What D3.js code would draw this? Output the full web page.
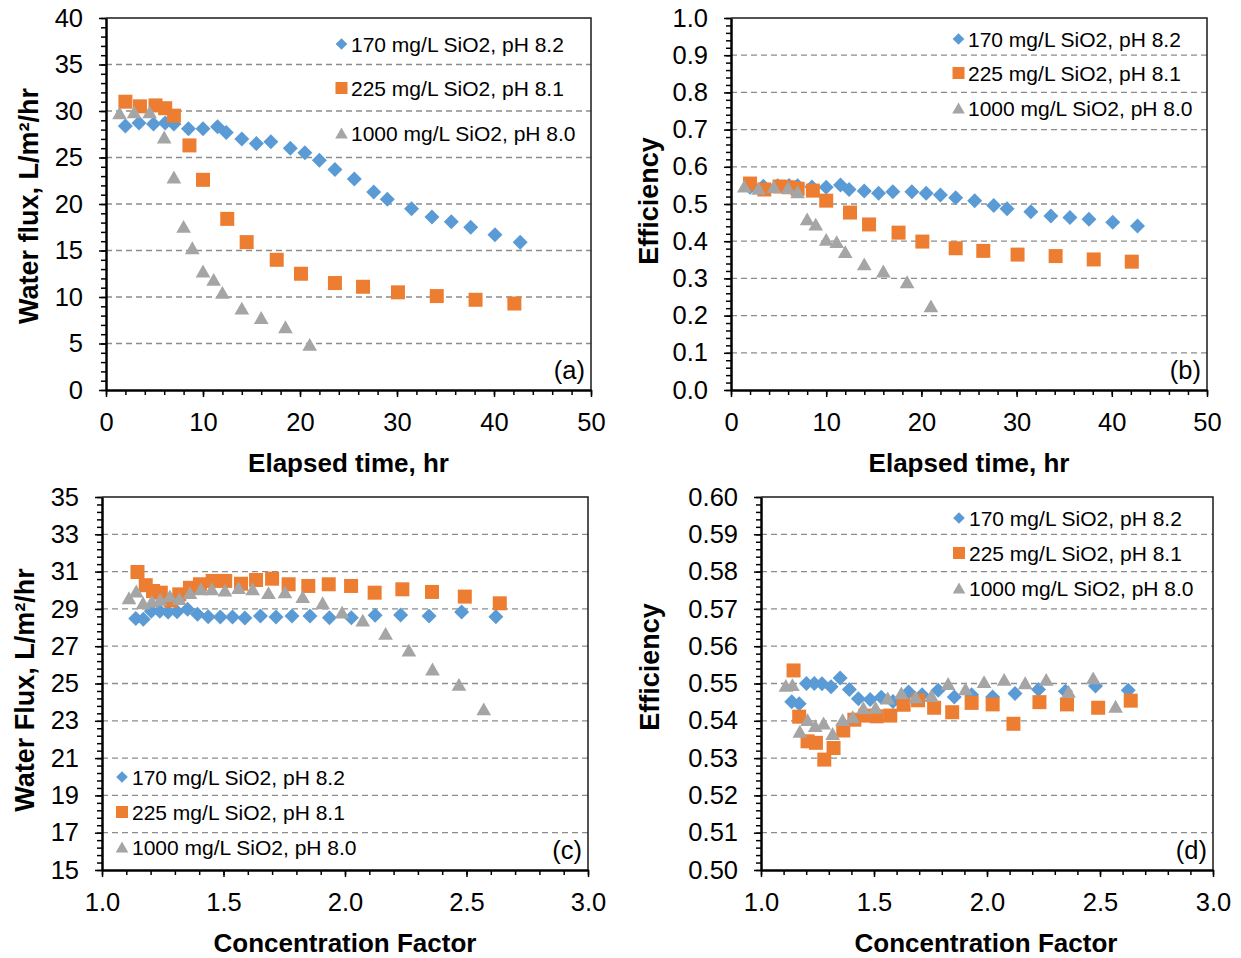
<!DOCTYPE html>
<html><head><meta charset="utf-8">
<script src="https://cdn.jsdelivr.net/npm/d3@7"></script>
<style>
body{margin:0;background:#fff}
text{font-family:"Liberation Sans",Arial,sans-serif;fill:#000}
</style>
</head><body>
<svg id="chart" width="1241" height="958"></svg>
<script>
// ---------- data ----------
const seriesNames = ["170 mg/L SiO2, pH 8.2", "225 mg/L SiO2, pH 8.1", "1000 mg/L SiO2, pH 8.0"];
const seriesColors = ["#5B9BD5", "#ED7D31", "#A5A5A5"];

// Panels (a)/(b): elapsed time (hr)
const timeBlue   = [2.0, 3.4, 4.9, 6.1, 7.0, 8.5, 10.0, 11.5, 12.4, 14.0, 15.5, 17.0, 19.0, 20.5, 22.0, 23.6, 25.6, 27.6, 29.0, 31.5, 33.6, 35.6, 37.6, 40.1, 42.7];
const timeOrange = [2.0, 3.5, 5.1, 6.1, 7.0, 8.6, 10.0, 12.5, 14.5, 17.6, 20.1, 23.6, 26.5, 30.1, 34.1, 38.1, 42.1];
const timeGray   = [1.4, 2.9, 4.5, 6.0, 7.0, 8.0, 8.9, 10.0, 11.1, 12.0, 14.0, 16.0, 18.5, 21.0];

// (a) water flux, L/m2/hr
const fluxBlueA   = [28.4, 28.7, 28.6, 28.7, 28.6, 28.1, 28.1, 28.3, 27.7, 27.0, 26.5, 26.7, 26.0, 25.5, 24.7, 23.7, 22.7, 21.3, 20.5, 19.5, 18.6, 18.1, 17.5, 16.7, 15.9];
const fluxOrangeA = [31.0, 30.5, 30.6, 30.3, 29.5, 26.3, 22.6, 18.4, 15.9, 14.0, 12.5, 11.5, 11.1, 10.5, 10.1, 9.7, 9.3];
const fluxGrayA   = [29.8, 29.9, 29.9, 27.2, 22.9, 17.6, 15.3, 12.8, 11.9, 10.5, 8.8, 7.8, 6.8, 4.9];

// (b) efficiency vs time
const effBlueB   = [0.545, 0.548, 0.549, 0.550, 0.549, 0.546, 0.545, 0.551, 0.539, 0.535, 0.529, 0.533, 0.533, 0.529, 0.524, 0.517, 0.509, 0.496, 0.487, 0.479, 0.468, 0.464, 0.459, 0.451, 0.441];
const effOrangeB = [0.555, 0.539, 0.547, 0.545, 0.541, 0.536, 0.509, 0.477, 0.445, 0.423, 0.399, 0.381, 0.374, 0.364, 0.360, 0.351, 0.345];
const effGrayB   = [0.548, 0.542, 0.547, 0.544, 0.533, 0.460, 0.446, 0.405, 0.399, 0.372, 0.339, 0.320, 0.291, 0.226];

// Panel (c): concentration factor vs water flux
const cfBlueC   = [1.139, 1.170, 1.203, 1.238, 1.272, 1.309, 1.352, 1.393, 1.437, 1.487, 1.537, 1.588, 1.652, 1.716, 1.782, 1.856, 1.936, 2.026, 2.124, 2.229, 2.346, 2.480, 2.621];
const fluxBlueC = [28.48, 28.44, 28.87, 28.87, 28.83, 28.85, 28.98, 28.71, 28.58, 28.56, 28.56, 28.51, 28.62, 28.56, 28.62, 28.62, 28.53, 28.53, 28.66, 28.67, 28.62, 28.83, 28.58];
const cfOrangeC   = [1.146, 1.180, 1.210, 1.242, 1.283, 1.318, 1.362, 1.403, 1.455, 1.507, 1.572, 1.634, 1.700, 1.768, 1.849, 1.933, 2.025, 2.122, 2.236, 2.358, 2.493, 2.637];
const fluxOrangeC = [30.98, 30.27, 29.96, 29.87, 29.45, 29.78, 30.13, 30.32, 30.50, 30.50, 30.35, 30.55, 30.62, 30.32, 30.23, 30.32, 30.23, 29.87, 30.05, 29.91, 29.66, 29.30];
const cfGrayC   = [1.111, 1.141, 1.169, 1.205, 1.239, 1.279, 1.318, 1.362, 1.407, 1.452, 1.506, 1.562, 1.620, 1.685, 1.753, 1.826, 1.908, 1.988, 2.073, 2.167, 2.263, 2.360, 2.469, 2.571];
const fluxGrayC = [29.60, 29.96, 29.33, 29.42, 29.52, 29.70, 29.55, 29.87, 30.08, 30.08, 30.01, 30.14, 30.08, 29.87, 29.91, 29.66, 29.33, 28.83, 28.40, 27.69, 26.79, 25.78, 24.95, 23.64];

// Panel (d): concentration factor vs efficiency
const cfBlueD  = [1.136, 1.169, 1.201, 1.236, 1.270, 1.310, 1.350, 1.391, 1.431, 1.483, 1.532, 1.584, 1.653, 1.713, 1.784, 1.855, 1.932, 2.025, 2.124, 2.228, 2.347, 2.480, 2.625];
const effBlueD = [0.5451, 0.5446, 0.5500, 0.5500, 0.5499, 0.5491, 0.5515, 0.5484, 0.5459, 0.5457, 0.5463, 0.5452, 0.5477, 0.5470, 0.5482, 0.5464, 0.5470, 0.5464, 0.5473, 0.5484, 0.5479, 0.5493, 0.5482];
const cfOrangeD  = [1.144, 1.169, 1.206, 1.243, 1.280, 1.321, 1.364, 1.413, 1.462, 1.512, 1.572, 1.631, 1.695, 1.766, 1.846, 1.932, 2.025, 2.117, 2.232, 2.354, 2.492, 2.636];
const effOrangeD = [0.5535, 0.5411, 0.5345, 0.5341, 0.5296, 0.5327, 0.5374, 0.5403, 0.5414, 0.5412, 0.5414, 0.5443, 0.5455, 0.5435, 0.5423, 0.5448, 0.5444, 0.5392, 0.5450, 0.5444, 0.5435, 0.5454];
const cfGrayD  = [1.110, 1.139, 1.172, 1.206, 1.240, 1.277, 1.317, 1.361, 1.406, 1.453, 1.507, 1.561, 1.621, 1.684, 1.754, 1.828, 1.905, 1.987, 2.076, 2.169, 2.262, 2.361, 2.470, 2.569];
const effGrayD = [0.5495, 0.5497, 0.5372, 0.5403, 0.5387, 0.5394, 0.5366, 0.5403, 0.5411, 0.5435, 0.5436, 0.5461, 0.5475, 0.5464, 0.5468, 0.5500, 0.5486, 0.5505, 0.5511, 0.5502, 0.5511, 0.5479, 0.5515, 0.5439];

// Axis tick values
const timeTicks = [0, 10, 20, 30, 40, 50];
const fluxTicksA = [0, 5, 10, 15, 20, 25, 30, 35, 40];
const effTicksB = [0.0, 0.1, 0.2, 0.3, 0.4, 0.5, 0.6, 0.7, 0.8, 0.9, 1.0];
const cfTicks = [1.0, 1.5, 2.0, 2.5, 3.0];
const fluxTicksC = [15, 17, 19, 21, 23, 25, 27, 29, 31, 33, 35];
const effTicksD = [0.50, 0.51, 0.52, 0.53, 0.54, 0.55, 0.56, 0.57, 0.58, 0.59, 0.60];

// ---------- drawing ----------
const svg = d3.select("#chart");
const minorRange = (lo, hi, step) => d3.range(Math.round((hi - lo) / step) + 1).map(i => lo + i * step);

function markerPath(kind, s) {
  if (kind === 0) { const r = s; return `M0,${-r}L${r},0L0,${r}L${-r},0Z`; }
  if (kind === 1) { const h = s; return `M${-h},${-h}H${h}V${h}H${-h}Z`; }
  const w = s * 1.05, hh = s * 0.92;
  return `M0,${-hh}L${w},${hh}L${-w},${hh}Z`;
}

function panel(cfg) {
  const g = svg.append("g");
  const x = d3.scaleLinear().domain(cfg.xDomain).range([cfg.left, cfg.right]);
  const y = d3.scaleLinear().domain(cfg.yDomain).range([cfg.bottom, cfg.top]);

  // gridlines
  g.append("g").selectAll("line")
    .data(cfg.yTicks.slice(1, -1))
    .join("line")
    .attr("x1", cfg.left).attr("x2", cfg.right)
    .attr("y1", d => y(d)).attr("y2", d => y(d))
    .attr("stroke", "#8c8c8c").attr("stroke-width", 1.3)
    .attr("stroke-dasharray", "6,4");

  // frame top/right
  g.append("path")
    .attr("d", `M${cfg.left},${cfg.top}H${cfg.right}V${cfg.bottom}`)
    .attr("fill", "none").attr("stroke", "#1a1a1a").attr("stroke-width", 1.5);

  // minor ticks
  const yMinor = g.append("g").attr("transform", `translate(${cfg.left},0)`)
    .call(d3.axisLeft(y).tickValues(cfg.yMinor).tickSize(5).tickFormat(""));
  const xMinor = g.append("g").attr("transform", `translate(0,${cfg.bottom})`)
    .call(d3.axisBottom(x).tickValues(cfg.xMinor).tickSize(5).tickFormat(""));
  [yMinor, xMinor].forEach(a => { a.select(".domain").remove(); a.selectAll("line").attr("stroke", "#000").attr("stroke-width", 1.5); });

  // major axes
  const yAx = g.append("g").attr("transform", `translate(${cfg.left},0)`)
    .call(d3.axisLeft(y).tickValues(cfg.yTicks).tickSize(7).tickSizeOuter(0).tickPadding(16).tickFormat(d3.format(cfg.yFmt)));
  const xAx = g.append("g").attr("transform", `translate(0,${cfg.bottom})`)
    .call(d3.axisBottom(x).tickValues(cfg.xTicks).tickSize(7).tickSizeOuter(0).tickPadding(16).tickFormat(d3.format(cfg.xFmt)));
  [yAx, xAx].forEach(a => {
    a.select(".domain").attr("stroke", "#000").attr("stroke-width", 2.5);
    a.selectAll("line").attr("stroke", "#000").attr("stroke-width", 1.5);
    a.selectAll("text").attr("font-size", 25.5).attr("font-family", "Liberation Sans, Arial, sans-serif").attr("fill", "#000");
  });

  // series
  cfg.series.forEach((s, k) => {
    const pts = s.x.map((v, i) => [v, s.y[i]]);
    g.append("g").selectAll("path")
      .data(pts).join("path")
      .attr("transform", d => `translate(${x(d[0])},${y(d[1])})`)
      .attr("d", markerPath(k, k === 0 ? 7.5 : 7))
      .attr("fill", seriesColors[k]);
  });

  // legend
  cfg.legend.ys.forEach((ly, k) => {
    g.append("path")
      .attr("transform", `translate(${cfg.legend.mx},${ly})`)
      .attr("d", markerPath(k, k === 0 ? 5.8 : 6))
      .attr("fill", seriesColors[k]);
    g.append("text")
      .attr("x", cfg.legend.tx).attr("y", ly + 7.5)
      .attr("font-size", 21)
      .text(seriesNames[k]);
  });

  // panel label
  g.append("text").attr("x", cfg.right - 6).attr("y", cfg.bottom - 11)
    .attr("text-anchor", "end").attr("font-size", 25.5).text(cfg.label);

  // axis titles
  g.append("text").attr("x", cfg.xTitle[1]).attr("y", cfg.xTitle[2])
    .attr("text-anchor", "middle").attr("font-size", 26).attr("font-weight", "bold")
    .text(cfg.xTitle[0]);
  g.append("text")
    .attr("transform", `translate(${cfg.yTitle[1]},${cfg.yTitle[2]}) rotate(-90)`)
    .attr("text-anchor", "middle").attr("dy", "0.36em")
    .attr("font-size", 27).attr("font-weight", "bold")
    .text(cfg.yTitle[0]);
}

panel({
  left: 106, right: 591, top: 18, bottom: 390,
  xDomain: [0, 50], yDomain: [0, 40],
  xTicks: timeTicks, yTicks: fluxTicksA,
  xMinor: minorRange(0, 50, 2), yMinor: minorRange(0, 40, 1),
  xFmt: "d", yFmt: "d",
  series: [{x: timeBlue, y: fluxBlueA}, {x: timeOrange, y: fluxOrangeA}, {x: timeGray, y: fluxGrayA}],
  legend: {mx: 341.5, tx: 351, ys: [44, 88, 133]},
  label: "(a)",
  xTitle: ["Elapsed time, hr", 348.5, 472],
  yTitle: ["Water flux, L/m²/hr", 28, 206]
});

panel({
  left: 731, right: 1207, top: 18, bottom: 390,
  xDomain: [0, 50], yDomain: [0, 1],
  xTicks: timeTicks, yTicks: effTicksB,
  xMinor: minorRange(0, 50, 2), yMinor: minorRange(0, 1, 0.02),
  xFmt: "d", yFmt: ".1f",
  series: [{x: timeBlue, y: effBlueB}, {x: timeOrange, y: effOrangeB}, {x: timeGray, y: effGrayB}],
  legend: {mx: 958.5, tx: 968, ys: [39, 73, 108]},
  label: "(b)",
  xTitle: ["Elapsed time, hr", 969, 472],
  yTitle: ["Efficiency", 648, 201]
});

panel({
  left: 102, right: 588, top: 497, bottom: 870,
  xDomain: [1, 3], yDomain: [15, 35],
  xTicks: cfTicks, yTicks: fluxTicksC,
  xMinor: minorRange(1, 3, 0.1), yMinor: minorRange(15, 35, 0.4),
  xFmt: ".1f", yFmt: "d",
  series: [{x: cfBlueC, y: fluxBlueC}, {x: cfOrangeC, y: fluxOrangeC}, {x: cfGrayC, y: fluxGrayC}],
  legend: {mx: 122, tx: 132, ys: [777, 812, 847]},
  label: "(c)",
  xTitle: ["Concentration Factor", 345, 952],
  yTitle: ["Water Flux, L/m²/hr", 24, 690]
});

panel({
  left: 761, right: 1213, top: 497, bottom: 870,
  xDomain: [1, 3], yDomain: [0.5, 0.6],
  xTicks: cfTicks, yTicks: effTicksD,
  xMinor: minorRange(1, 3, 0.1), yMinor: minorRange(0.5, 0.6, 0.002),
  xFmt: ".1f", yFmt: ".2f",
  series: [{x: cfBlueD, y: effBlueD}, {x: cfOrangeD, y: effOrangeD}, {x: cfGrayD, y: effGrayD}],
  legend: {mx: 959, tx: 969, ys: [518, 553, 588]},
  label: "(d)",
  xTitle: ["Concentration Factor", 986, 952],
  yTitle: ["Efficiency", 649, 667]
});
</script>
</body></html>
